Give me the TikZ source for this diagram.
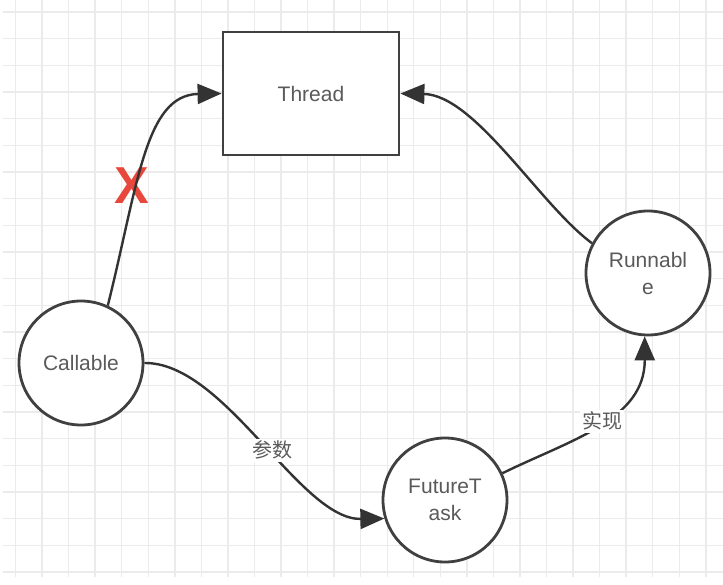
\documentclass[tikz,border=0pt]{standalone}
\usepackage{fontspec}
\setmainfont{Liberation Sans}
\newfontfamily\cjkfont{Noto Sans CJK SC}
\usetikzlibrary{arrows.meta}
\definecolor{gridc}{HTML}{EBEBEB}
\definecolor{linec}{HTML}{333333}
\definecolor{borderc}{HTML}{404040}
\definecolor{textc}{HTML}{5A5A5A}
\definecolor{crossc}{HTML}{E8473C}
\tikzset{
  gridline/.style={draw=gridc, line width=1.4pt},
  roundnode/.style={circle, draw=borderc, line width=2.8pt, fill=white, minimum size=124pt, inner sep=0pt,
    text=textc, font=\fontsize{21}{27}\selectfont, align=center},
  boxnode/.style={rectangle, draw=borderc, line width=2.8pt, fill=white, minimum width=176pt, minimum height=123pt,
    inner sep=0pt, text=textc, font=\fontsize{21}{27}\selectfont},
  conn/.style={draw=linec, line width=2.4pt, -{Triangle[length=24pt,width=20pt,fill=linec]}},
  edgelabel/.style={fill=white, text=textc, inner sep=2pt, font=\cjkfont\fontsize{20}{24}\selectfont},
  crossmark/.style={text=crossc, inner sep=0pt, font=\fontsize{52}{52}\selectfont\bfseries}
}
\begin{document}
\begin{tikzpicture}[x=1pt,y=-1pt]
\useasboundingbox (0,0) rectangle (723,584);
\fill[white] (0,0) rectangle (723,584);
% grid
\foreach \k in {0,...,26} {
  \draw[gridline] ({15.5+26.55*\k},0) -- ({15.5+26.55*\k},577);
}
\foreach \k in {0,...,21} {
  \draw[gridline] (3,{12+26.67*\k}) -- (723,{12+26.67*\k});
}
% nodes
\node[boxnode] (thread) at (311,93.5) {Thread};
\node[roundnode] (callable) at (81,363) {Callable};
\node[roundnode] (futuretask) at (445,500) {FutureT\\ask};
\node[roundnode] (runnable) at (648,273) {Runnabl\\e};
% red cross label
\node[crossmark] (cross) at (132,186) {X};
% connectors
\draw[conn] (callable.65) .. controls (138,185) and (145,95) .. (thread.west);
\draw[conn] (runnable.152) .. controls (540,205) and (475,95) .. (thread.east);
\draw[conn] (callable.east) .. controls (225,362) and (300,520) .. (futuretask.197)
  node[edgelabel, pos=0.54] (param) {参数};
\draw[conn] (futuretask.25) .. controls (570,440) and (645,420) .. (runnable.267)
  node[edgelabel, pos=0.52] (impl) {实现};
\end{tikzpicture}
\end{document}
